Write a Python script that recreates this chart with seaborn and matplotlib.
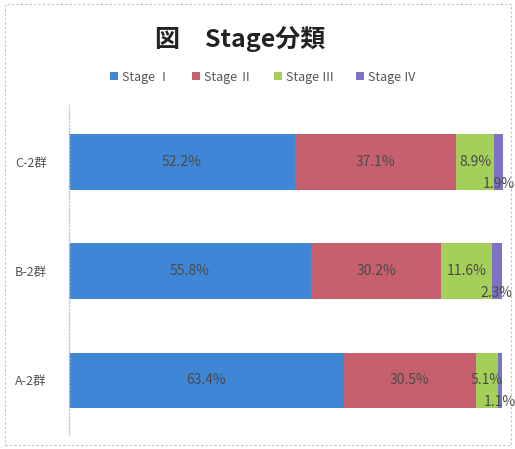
import matplotlib
matplotlib.use("Agg")
import matplotlib.pyplot as plt
import seaborn as sns
import pandas as pd
import numpy as np
from matplotlib.patches import Rectangle, Patch

groups = ["C-2群", "B-2群", "A-2群"]
stages = ["Stage Ⅰ", "Stage Ⅱ", "Stage Ⅲ", "Stage Ⅳ"]
stage1 = [52.2, 55.8, 63.4]
stage2 = [37.1, 30.2, 30.5]
stage3 = [8.9, 11.6, 5.1]
stage4 = [1.9, 2.3, 1.1]
colors = ["#3f86d6", "#c6606f", "#a4d05a", "#7f72c2"]

sns.set_theme(style="white")
plt.rcParams["font.family"] = ["Noto Sans CJK JP", "DejaVu Sans"]

series = [stage1, stage2, stage3, stage4]
rows = []
for s, vals in zip(stages, series):
    for g, v in zip(groups, vals):
        rows.append({"group": g, "stage": s, "value": v})
df = pd.DataFrame(rows)
df["cum"] = df.groupby("group")["value"].cumsum()

fig = plt.figure(figsize=(5.15, 4.49), dpi=100)
ax = fig.add_axes([69 / 515, 1 - 435 / 449, (502.5 - 69) / 515, 330 / 449])

# draw cumulative layers from the outermost to innermost
for s, c in reversed(list(zip(stages, colors))):
    sub = df[df["stage"] == s]
    sns.barplot(data=sub, x="cum", y="group", order=groups, color=c,
                orient="h", width=0.51, ax=ax, saturation=1, errorbar=None,
                linewidth=0, edgecolor="none")

ax.set_xlim(0, 100.1)
ax.set_ylim(2.5, -0.52)
ax.set_xlabel("")
ax.set_ylabel("")
ax.set_xticks([])
for sp in ["top", "right", "bottom"]:
    ax.spines[sp].set_visible(False)
ax.spines["left"].set_color("#c8c8c8")
ax.spines["left"].set_linestyle((0, (1, 1.5)))
ax.spines["left"].set_linewidth(1.0)
ax.tick_params(axis="y", length=0, pad=16, labelsize=9, labelcolor="#555555")

# data labels
for gi, g in enumerate(groups):
    sub = df[df["group"] == g].reset_index(drop=True)
    for si in range(len(stages)):
        v = sub.loc[si, "value"]
        cum = sub.loc[si, "cum"]
        xc = cum - v / 2
        yc = gi
        if si == 3:
            yc = gi + 0.2
        ax.text(xc, yc, f"{v:.1f}%", ha="center", va="center",
                fontsize=10, color="#4a4a4a")

# title
fig.text(240 / 515, 1 - 39 / 449, "図　Stage分類", ha="center", va="center",
         fontsize=18, fontweight="bold", color="#222222")

# legend
handles = [Patch(facecolor=c, edgecolor="none") for c in colors]
fig.legend(handles, stages, loc="center", bbox_to_anchor=(263 / 515, 1 - 77 / 449),
           ncol=4, frameon=False, fontsize=9, handlelength=0.6, handleheight=0.6,
           handletextpad=0.3, columnspacing=1.8, labelcolor="#555555")

# dashed outer border
fig.patches.append(Rectangle((5 / 515, 4 / 449), 506 / 515, 441 / 449,
                             transform=fig.transFigure, fill=False,
                             edgecolor="#c0c0c0", linestyle=(0, (2, 2)), linewidth=0.8))

fig.savefig("out.png", dpi=100)
